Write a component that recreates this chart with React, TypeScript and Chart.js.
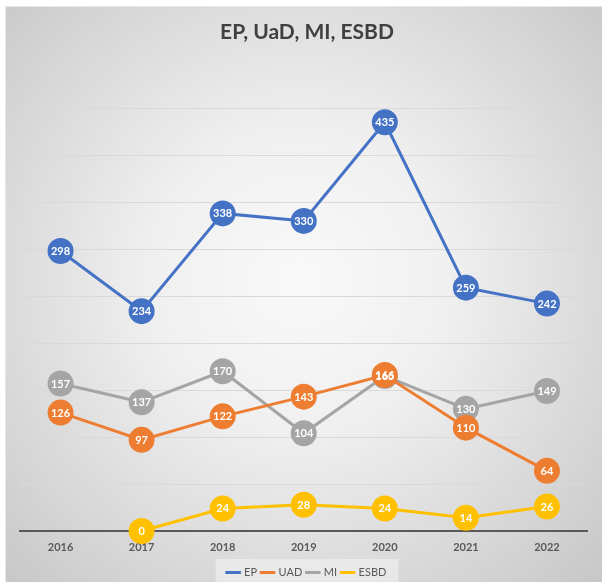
import React, { useEffect, useRef } from "react";
import { Chart, registerables } from "chart.js";

Chart.register(...registerables);

const categories = ["2016", "2017", "2018", "2019", "2020", "2021", "2022"];
const epValues = [298, 234, 338, 330, 435, 259, 242];
const uadValues = [126, 97, 122, 143, 166, 110, 64];
const miValues = [157, 137, 170, 104, 165, 130, 149];
const esbdValues: (number | null)[] = [null, 0, 24, 28, 24, 14, 26];
const seriesNames = ["EP", "UAD", "MI", "ESBD"];
const titleText = "EP, UaD, MI, ESBD";

const colors = ["#4472C4", "#ED7D31", "#A5A5A5", "#FFC000"];

const bgPlugin = {
  id: "bgPlugin",
  beforeDraw(chart: any) {
    const { ctx, width, height } = chart;
    ctx.save();
    ctx.fillStyle = "#ffffff";
    ctx.fillRect(0, 0, width, height);
    const cx = 300, cy = 280;
    const g = ctx.createRadialGradient(cx, cy, 0, cx, cy, 420);
    g.addColorStop(0, "#f9f9f9");
    g.addColorStop(0.35, "#f0f0f0");
    g.addColorStop(1, "#c8c8c8");
    ctx.fillStyle = g;
    ctx.fillRect(5, 6, width - 5, height - 6);
    ctx.strokeStyle = "#e8e8e8";
    ctx.lineWidth = 1;
    ctx.strokeRect(5.5, 6.5, width, height);
    const lg = chart.legend;
    if (lg && lg.legendHitBoxes && lg.legendHitBoxes.length) {
      const hb = lg.legendHitBoxes;
      const l = hb[0].left - 12;
      const r = hb[hb.length - 1].left + hb[hb.length - 1].width + 12;
      ctx.fillStyle = "rgba(255,255,255,0.4)";
      ctx.fillRect(l, hb[0].top - 8, r - l, height - hb[0].top + 8);
    }
    ctx.restore();
  },
};

const labelPlugin = {
  id: "labelPlugin",
  afterDatasetsDraw(chart: any) {
    const { ctx } = chart;
    ctx.save();
    ctx.font = "bold 11px Lato, 'Liberation Sans', sans-serif";
    ctx.fillStyle = "#ffffff";
    ctx.textAlign = "center";
    ctx.textBaseline = "middle";
    chart.data.datasets.forEach((ds: any, i: number) => {
      const meta = chart.getDatasetMeta(i);
      meta.data.forEach((pt: any, j: number) => {
        const v = ds.data[j];
        if (v === null || v === undefined) return;
        ctx.fillText(String(v), pt.x, pt.y + 0.5);
      });
    });
    ctx.restore();
  },
};

export default function App() {
  const ref = useRef<HTMLCanvasElement | null>(null);
  useEffect(() => {
    if (!ref.current) return;
    const all = [epValues, uadValues, miValues, esbdValues];
    const chart = new Chart(ref.current, {
      type: "line",
      data: {
        labels: categories,
        datasets: all.map((d, i) => ({
          label: seriesNames[i],
          data: d,
          borderColor: colors[i],
          backgroundColor: colors[i],
          pointBackgroundColor: colors[i],
          pointBorderColor: colors[i],
          pointRadius: 11.5,
          pointHoverRadius: 11.5,
          borderWidth: 3,
          tension: 0,
          clip: false as any,
        })),
      },
      options: {
        animation: false,
        responsive: false,
        maintainAspectRatio: false,
        layout: { padding: { left: 20, right: 8, top: 0, bottom: -6 } },
        plugins: {
          title: {
            display: true,
            text: titleText,
            color: "#404040",
            font: { family: "Lato, 'Open Sans', sans-serif", size: 21, weight: "bold" },
            padding: { top: 20, bottom: 16 },
          },
          legend: {
            position: "bottom",
            labels: {
              usePointStyle: true,
              pointStyle: "line",
              boxWidth: 30,
              color: "#595959",
              font: { family: "Lato, 'Open Sans', sans-serif", size: 11 },
              padding: 5,
            },
          },
          tooltip: { enabled: false },
        },
        scales: {
          x: {
            offset: true,
            grid: { display: false },
            border: { display: true, color: "#595959", width: 2 },
            ticks: {
              color: "#595959",
              font: { family: "Lato, 'Open Sans', sans-serif", size: 11, weight: "bold" },
              padding: 2,
            },
            afterFit: (s: any) => {
              s.height = 31;
            },
          },
          y: {
            min: 0,
            max: 500,
            ticks: { display: false, stepSize: 50 },
            border: { display: false },
            grid: {
              drawTicks: false,
              color: (c: any) =>
                c.tick && (c.tick.value === 500 || c.tick.value === 0) ? "rgba(0,0,0,0)" : "#d9d9d9",
              lineWidth: 1,
            },
            afterFit: (s: any) => {
              s.width = 0;
            },
          },
        },
      },
      plugins: [bgPlugin, labelPlugin],
    });
    return () => chart.destroy();
  }, []);
  return (
    <div style={{ position: "fixed", left: 0, top: 0, width: 602, height: 582 }}>
      <canvas ref={ref} width={602} height={582} style={{ width: 602, height: 582 }} />
    </div>
  );
}
